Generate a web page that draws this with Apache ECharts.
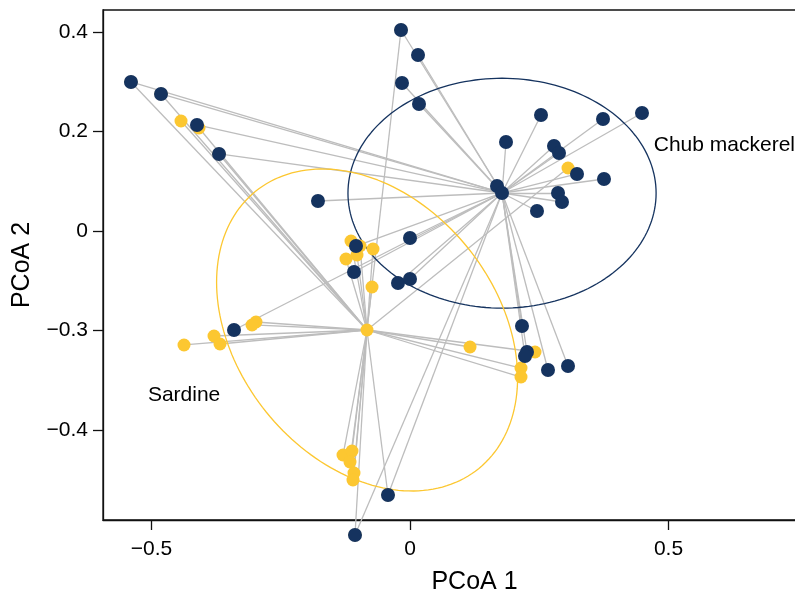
<!DOCTYPE html>
<html>
<head>
<meta charset="utf-8">
<script src="https://cdn.jsdelivr.net/npm/echarts@6/dist/echarts.min.js"></script>
<style>html,body{margin:0;padding:0;background:#fff;overflow:hidden;width:795px;height:600px}#c{width:850px;height:600px}</style>
</head>
<body>
<div id="c"></div>
<script>
// ---- data ----
const xTickValues = [-0.5, 0, 0.5];
const xTickLabels = ['\u22120.5', '0', '0.5'];
const yTickValues = [-0.4, -0.2, 0, 0.2, 0.4];
const yTickLabels = ['\u22120.4', '\u22120.3', '0', '0.2', '0.4'];

const mackerelX = [-0.5397,-0.4816,-0.4120,-0.3694,-0.1780,-0.0174,0.0155,-0.0155,0.0174,0.1857,0.2534,0.3733,0.4487,0.2785,0.2882,0.3230,0.3752,0.2863,0.2940,0.2456,0.1683,-0.1044,-0.1083,0.0,-0.0232,0.0,-0.3404,0.2166,0.2263,0.2224,0.2669,0.3056,-0.0426,-0.1064];
const mackerelY = [0.2995,0.2754,0.2131,0.1548,0.0603,0.4040,0.3538,0.2975,0.2553,0.1789,0.2332,0.2251,0.2372,0.1709,0.1568,0.1146,0.1045,0.0764,0.0583,0.0402,0.0905,-0.0302,-0.0824,-0.0141,-0.1045,-0.0965,-0.1990,-0.1910,-0.2432,-0.2513,-0.2794,-0.2714,-0.5307,-0.6111];
const mackerelCentroid = [0.1780, 0.0764];

const sardineX = [-0.5397,-0.4816,-0.3694,-0.0174,-0.0426,-0.1064,-0.4429,-0.4081,-0.1141,-0.0967,-0.1025,-0.1238,-0.0716,-0.0735,-0.2979,-0.3056,-0.3791,-0.3675,-0.4371,0.1161,0.2418,0.2147,0.2147,-0.1296,-0.1122,-0.1161,-0.1083,-0.1103,0.3056];
const sardineY = [0.2995,0.2754,0.1548,0.4040,-0.5307,-0.6111,0.2211,0.2070,-0.0201,-0.0302,-0.0482,-0.0563,-0.0362,-0.1126,-0.1829,-0.1889,-0.2111,-0.2271,-0.2291,-0.2332,-0.2432,-0.2754,-0.2935,-0.4503,-0.4422,-0.4643,-0.4864,-0.5005,0.1266];
const sardineCentroid = [-0.0832, -0.1990];

// ellipse: center, axis vector u, axis vector v  (point = c + u cos t + v sin t)
const mackerelEllipse = [[0.178, 0.076], [0.298, 0], [0, 0.231]];
const sardineEllipse = [[-0.083, -0.199], [0.2911, -0.0961], [0, -0.3090]];

const groupNames = ['Chub mackerel', 'Sardine'];
const labelPos = [[0.4715, 0.173], [-0.507, -0.330]];

// ---- build ----
const NAVY = '#15335f', GOLD = '#fcc731', GREY = '#bdbdbd';
function pts(xs, ys){ return xs.map((x,i)=>[x, ys[i]]); }
function spokes(xs, ys, c){ return xs.map((x,i)=>({coords:[[x, ys[i]], c]})); }
function ellipse(e){
  const out=[]; const N=180;
  for(let k=0;k<=N;k++){ const t=2*Math.PI*k/N;
    out.push([e[0][0]+e[1][0]*Math.cos(t)+e[2][0]*Math.sin(t), e[0][1]+e[1][1]*Math.cos(t)+e[2][1]*Math.sin(t)]); }
  return out;
}
const FONT = 'Liberation Sans';
const chart = echarts.init(document.getElementById('c'), null, {renderer:'canvas'});
chart.setOption({
  animation:false,
  grid:{left:103, top:10, right:4, bottom:80, show:true, borderColor:'#111', borderWidth:1.3, backgroundColor:'transparent'},
  xAxis:{type:'value', min:-0.5938, max:0.8433, name:'PCoA 1', nameLocation:'middle', nameGap:50,
    nameTextStyle:{fontFamily:FONT, fontSize:25, color:'#000'},
    axisLine:{show:true, onZero:false, lineStyle:{color:'#111', width:1.3}},
    axisTick:{show:true, length:10, customValues:xTickValues, lineStyle:{color:'#111', width:1.3}},
    axisLabel:{customValues:xTickValues, margin:19, fontFamily:FONT, fontSize:21, color:'#000',
      formatter:v=>{const i=xTickValues.findIndex(t=>Math.abs(t-v)<1e-9); return i>=0?xTickLabels[i]:'';}},
    splitLine:{show:false}},
  yAxis:{type:'value', min:-0.5809, max:0.4442, name:'PCoA 2', nameLocation:'middle', nameGap:68, nameRotate:90,
    nameTextStyle:{fontFamily:FONT, fontSize:25, color:'#000'},
    axisLine:{show:true, onZero:false, lineStyle:{color:'#111', width:1.3}},
    axisTick:{show:true, length:10, customValues:yTickValues, lineStyle:{color:'#111', width:1.3}},
    axisLabel:{customValues:yTickValues, margin:15, fontFamily:FONT, fontSize:21, color:'#000',
      formatter:v=>{const i=yTickValues.findIndex(t=>Math.abs(t-v)<1e-9); return i>=0?yTickLabels[i]:'';}},
    splitLine:{show:false}},
  series:[
    {type:'lines', coordinateSystem:'cartesian2d', clip:false, silent:true, z:1,
      lineStyle:{color:GREY, width:1.3, opacity:1}, data:spokes(mackerelX, mackerelY, mackerelCentroid)},
    {type:'lines', coordinateSystem:'cartesian2d', clip:false, silent:true, z:1,
      lineStyle:{color:GREY, width:1.3, opacity:1}, data:spokes(sardineX, sardineY, sardineCentroid)},
    {type:'line', data:ellipse(mackerelEllipse), showSymbol:false, clip:false, z:2, silent:true,
      lineStyle:{color:NAVY, width:1.3}},
    {type:'line', data:ellipse(sardineEllipse), showSymbol:false, clip:false, z:2, silent:true,
      lineStyle:{color:GOLD, width:1.3}},
    {type:'scatter', data:pts(sardineX, sardineY).concat([sardineCentroid]), symbolSize:13, clip:false, z:3,
      itemStyle:{color:GOLD, opacity:1}},
    {type:'scatter', data:pts(mackerelX, mackerelY).concat([mackerelCentroid]), symbolSize:14, clip:false, z:4,
      itemStyle:{color:NAVY, opacity:1}}
  ]
});
chart.setOption({
  graphic: labelPos.map((p,i)=>{
    const px = chart.convertToPixel({gridIndex:0}, p);
    return {type:'text', x:px[0], y:px[1], z:10, silent:true,
      style:{text:groupNames[i], fill:'#000', font:'21px "Liberation Sans"', textAlign:'left', textVerticalAlign:'middle'}};
  })
});
</script>
</body>
</html>
